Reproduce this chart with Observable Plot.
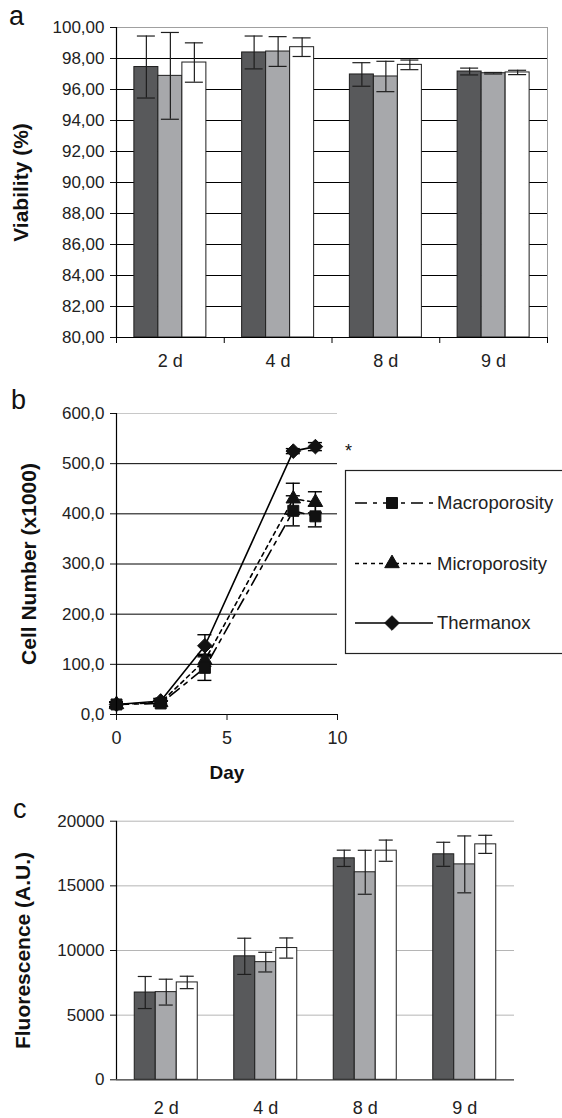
<!DOCTYPE html>
<html><head><meta charset="utf-8">
<script src="https://cdn.jsdelivr.net/npm/d3@7"></script>
<script src="https://cdn.jsdelivr.net/npm/@observablehq/plot@0.6"></script>
<style>
body{margin:0;background:#fff;}
#wrap{position:relative;width:562px;height:1118px;overflow:hidden;font-family:"Liberation Sans",Arial,sans-serif;background:#fff;}
#wrap svg.plot{position:absolute;left:0;}
</style></head><body><div id="wrap"></div>
<script>
// ---------- data ----------
const cats = ["2 d", "4 d", "8 d", "9 d"];
const seriesNames = ["Macroporosity", "Microporosity", "Thermanox"];
const barFills = ["#58595b", "#a7a8ab", "#ffffff"];

// panel a: viability (%)
const viabMacro = [97.45, 98.39, 96.97, 97.16];
const viabMacroErr = [2.0, 1.06, 0.76, 0.22];
const viabMicro = [96.88, 98.45, 96.84, 97.05];
const viabMicroErr = [2.8, 0.96, 0.98, 0.05];
const viabTherm = [97.74, 98.73, 97.59, 97.10];
const viabThermErr = [1.27, 0.60, 0.31, 0.14];
const viabTicks = [80, 82, 84, 86, 88, 90, 92, 94, 96, 98, 100];

// panel b: cell number (x1000)
const cellDays = [0, 2, 4, 8, 9];
const cellMacro = [20, 22, 93, 406, 395];
const cellMacroErr = [5, 5, 25, 30, 21];
const cellMicro = [20, 24, 108, 430, 423];
const cellMicroErr = [5, 5, 12, 31, 21];
const cellTherm = [20, 27, 137, 525, 534];
const cellThermErr = [4, 5, 22, 5, 8];
const cellTicks = [0, 100, 200, 300, 400, 500, 600];
const dayTicks = [0, 5, 10];

// panel c: fluorescence (A.U.)
const fluoMacro = [6750, 9550, 17130, 17440];
const fluoMacroErr = [1240, 1400, 630, 930];
const fluoMicro = [6780, 9100, 16050, 16660];
const fluoMicroErr = [1000, 760, 1700, 2200];
const fluoTherm = [7530, 10190, 17720, 18210];
const fluoThermErr = [480, 780, 820, 700];
const fluoTicks = [0, 5000, 10000, 15000, 20000];

// ---------- helpers ----------
const W = 562;
const FONT = '"Liberation Sans", Arial, sans-serif';
const comma = n => d => d.toFixed(n).replace(".", ",");
const catRows = (v, e) => cats.map((c, i) => ({cat: c, v: v[i], e: e[i]}));
const dayRows = (v, e) => cellDays.map((d, i) => ({day: d, v: v[i], e: e[i]}));
const wrap = document.getElementById("wrap");

function place(svg, top) {
  svg.classList.add("plot");
  svg.style.top = top + "px";
  wrap.appendChild(svg);
}

function grouped(cfg) {
  const {height, mt, mb, ml, mr, yDomain, yTicks, gridTicks, gridStroke, tickFmt,
         barW, capW, series, xPad, borders, boundaryTicks, axisStroke, ylabel, ylabelX} = cfg;
  const band = (W - ml - mr) / cats.length;
  const off = (band - series.length * barW) / 2;
  const marks = [Plot.ruleY(gridTicks, {stroke: gridStroke, strokeWidth: 1})];
  if (borders) {
    marks.push(Plot.ruleY([yDomain[1]], {stroke: "#a0a0a0"}));
    marks.push(Plot.ruleX(cats.slice(-1), {x: d => d, dx: band / 2, stroke: "#a0a0a0"}));
  }
  series.forEach((s, j) => {
    const C = off + j * barW + barW / 2;
    marks.push(Plot.barY(s.data, {x: "cat", y1: yDomain[0], y2: "v", fill: s.fill, stroke: "#1e1e1e", strokeWidth: 1,
      insetLeft: off + j * barW, insetRight: band - off - (j + 1) * barW}));
    marks.push(Plot.ruleX(s.data, {x: "cat", y1: d => d.v - d.e, y2: d => d.v + d.e, dx: C - band / 2, stroke: "#1e1e1e", strokeWidth: 1.2}));
    for (const sign of [1, -1]) {
      marks.push(Plot.tickY(s.data, {x: "cat", y: d => d.v + sign * d.e, stroke: "#1e1e1e", strokeWidth: 1.2,
        insetLeft: C - capW / 2, insetRight: band - C - capW / 2}));
    }
  });
  marks.push(Plot.ruleY([yDomain[0]], {stroke: axisStroke, strokeWidth: 1.2}));
  marks.push(Plot.ruleX(cats.slice(0, 1), {x: d => d, dx: -band / 2, stroke: "#000", strokeWidth: 1.2}));
  if (boundaryTicks) {
    marks.push(Plot.ruleX(cats, {x: d => d, y1: yDomain[0], y2: yDomain[0], insetTop: 0, insetBottom: -6, dx: -band / 2, stroke: "#000"}));
    marks.push(Plot.ruleX(cats.slice(-1), {x: d => d, y1: yDomain[0], y2: yDomain[0], insetTop: 0, insetBottom: -6, dx: band / 2, stroke: "#000"}));
  }
  marks.push(Plot.axisY({ticks: yTicks, tickFormat: tickFmt, tickSize: 6, tickPadding: 6, fontSize: 17, label: null, fill: "#222"}));
  marks.push(Plot.axisX({tickSize: 0, tickPadding: xPad, fontSize: 18, label: null, fill: "#222"}));
  marks.push(Plot.text([ylabel], {frameAnchor: "left", text: d => d, rotate: -90, dx: ylabelX - ml,
    fontWeight: "bold", fontSize: 21, fill: "#111", lineAnchor: "middle", textAnchor: "middle"}));
  return Plot.plot({
    width: W, height, marginTop: mt, marginBottom: mb, marginLeft: ml, marginRight: mr,
    x: {type: "band", domain: cats, padding: 0, round: false},
    y: {domain: yDomain},
    style: {fontFamily: FONT, fontSize: "17px", color: "#111", background: "transparent", overflow: "visible"},
    marks
  });
}

// ---------- panel a ----------
place(grouped({
  height: 385, mt: 27, mb: 48, ml: 116, mr: 15,
  yDomain: [80, 100], yTicks: viabTicks, gridTicks: viabTicks.slice(1, -1), gridStroke: "#000",
  tickFmt: comma(2), barW: 24, capW: 18, xPad: 17, borders: true, boundaryTicks: true, axisStroke: "#000",
  ylabel: "Viability (%)", ylabelX: 21,
  series: [
    {data: catRows(viabMacro, viabMacroErr), fill: barFills[0]},
    {data: catRows(viabMicro, viabMicroErr), fill: barFills[1]},
    {data: catRows(viabTherm, viabThermErr), fill: barFills[2]}
  ]
}), 0);

// ---------- panel b ----------
const lineSeries = [
  {name: seriesNames[2], data: dayRows(cellTherm, cellThermErr), dash: null, symbol: "diamond2", r: 6.6},
  {name: seriesNames[1], data: dayRows(cellMicro, cellMicroErr), dash: "4,4", symbol: "triangle", r: 5.4},
  {name: seriesNames[0], data: dayRows(cellMacro, cellMacroErr), dash: "12,6,4,6", symbol: "square", r: 6.2}
];
const bMarks = [
  Plot.ruleY(cellTicks.slice(1, -1), {stroke: "#000"}),
  Plot.ruleY(cellTicks.slice(-1), {stroke: "#c8c8c8"}),
];
for (const s of lineSeries) {
  bMarks.push(Plot.line(s.data, {x: "day", y: "v", stroke: "#000", strokeWidth: 1.6, strokeDasharray: s.dash}));
}
for (const s of lineSeries) {
  bMarks.push(Plot.ruleX(s.data, {x: "day", y1: d => d.v - d.e, y2: d => d.v + d.e, stroke: "#000", strokeWidth: 1.4}));
  for (const sign of [1, -1]) {
    bMarks.push(Plot.ruleY(s.data, {y: d => d.v + sign * d.e, x1: "day", x2: "day", insetLeft: -7, insetRight: -7, stroke: "#000", strokeWidth: 1.4}));
  }
}
for (const s of lineSeries) {
  bMarks.push(Plot.dot(s.data, {x: "day", y: "v", symbol: s.symbol, r: s.r, fill: "#111", stroke: "#111", strokeWidth: 1}));
}
bMarks.push(
  Plot.ruleY([0], {stroke: "#000", strokeWidth: 1.2}),
  Plot.ruleX([0], {stroke: "#000", strokeWidth: 1.2}),
  Plot.axisY({ticks: cellTicks, tickFormat: comma(1), tickSize: 6, tickPadding: 6, fontSize: 17, label: null, fill: "#222"}),
  Plot.axisX({ticks: dayTicks, tickSize: 6, tickPadding: 11, fontSize: 18, label: null, fill: "#222"}),
  Plot.text(["Day"], {frameAnchor: "bottom", text: d => d, dy: 58, fontWeight: "bold", fontSize: 19, fill: "#111", lineAnchor: "middle", textAnchor: "middle"}),
  Plot.text(["Cell Number (x1000)"], {frameAnchor: "left", text: d => d, rotate: -90, dx: 29 - 116, fontWeight: "bold", fontSize: 21, fill: "#111", lineAnchor: "middle", textAnchor: "middle"}),
  Plot.text(lineSeries[0].data.slice(-1), {x: "day", y: "v", text: () => "*", dx: 33, dy: 5, fontSize: 18, fill: "#111", lineAnchor: "middle"})
);
place(Plot.plot({
  width: W, height: 400, marginTop: 28, marginBottom: 71, marginLeft: 116, marginRight: 225,
  x: {domain: [0, 10]}, y: {domain: [0, 600]},
  style: {fontFamily: FONT, fontSize: "17px", color: "#111", background: "transparent", overflow: "visible"},
  marks: bMarks
}), 385);

// ---------- panel c ----------
place(grouped({
  height: 333, mt: 35.7, mb: 38.7, ml: 116, mr: 48,
  yDomain: [0, 20000], yTicks: fluoTicks, gridTicks: fluoTicks.slice(1), gridStroke: "#b5b5b5",
  tickFmt: d => String(d), barW: 21, capW: 14, xPad: 21, borders: false, boundaryTicks: false, axisStroke: "#333",
  ylabel: "Fluorescence (A.U.)", ylabelX: 23,
  series: [
    {data: catRows(fluoMacro, fluoMacroErr), fill: barFills[0]},
    {data: catRows(fluoMicro, fluoMicroErr), fill: barFills[1]},
    {data: catRows(fluoTherm, fluoThermErr), fill: barFills[2]}
  ]
}), 785);

// ---------- overlay: panel letters + legend ----------
const ov = d3.select(wrap).append("svg")
  .attr("width", W).attr("height", 1118)
  .style("position", "absolute").style("left", 0).style("top", 0)
  .style("font-family", FONT);
ov.selectAll("text.letter").data([["a", 9, 25], ["b", 11, 409], ["c", 13, 818]]).join("text")
  .attr("x", d => d[1]).attr("y", d => d[2]).attr("font-size", 27).attr("fill", "#111").text(d => d[0]);

const lg = ov.append("g");
lg.append("rect").attr("x", 345.5).attr("y", 470.5).attr("width", 240).attr("height", 183)
  .attr("fill", "#fff").attr("stroke", "#222").attr("stroke-width", 1.2);
const legendRows = [
  {name: seriesNames[0], y: 503, dash: "12,6,4,6", sym: d3.symbolSquare, r: 6.2},
  {name: seriesNames[1], y: 563.5, dash: "4,4", sym: d3.symbolTriangle, r: 5.4},
  {name: seriesNames[2], y: 623, dash: null, sym: d3.symbolDiamond2, r: 6.6}
];
for (const row of legendRows) {
  lg.append("line").attr("x1", 355).attr("x2", 433).attr("y1", row.y).attr("y2", row.y)
    .attr("stroke", "#000").attr("stroke-width", 1.6).attr("stroke-dasharray", row.dash);
  lg.append("path").attr("transform", `translate(392,${row.y})`)
    .attr("d", d3.symbol(row.sym, Math.PI * row.r * row.r)()).attr("fill", "#111").attr("stroke", "#111");
  lg.append("text").attr("x", 437).attr("y", row.y).attr("dy", "0.35em").attr("font-size", 18.5)
    .attr("fill", "#222").text(row.name);
}
</script></body></html>
